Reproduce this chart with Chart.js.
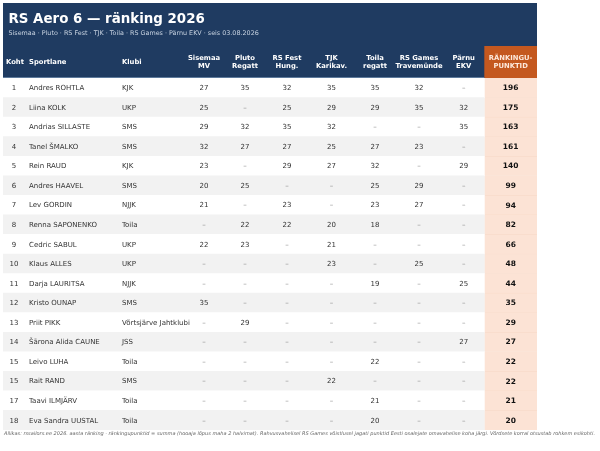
<!DOCTYPE html>
<html>
<head>
<meta charset="utf-8">
<script src="https://cdn.jsdelivr.net/npm/chart.js@4.4.1/dist/chart.umd.min.js"></script>
<style>
  html,body{margin:0;padding:0;background:#fff;}
  canvas{display:block;}
</style>
</head>
<body>
<canvas id="tbl" width="600" height="451"></canvas>
<script>
// RS Aero 6 ranking table, drawn on a Chart.js canvas

const TITLE = 'RS Aero 6 — ränking 2026';
const SUBTITLE = 'Sisemaa · Pluto · RS Fest · TJK · Toila · RS Games · Pärnu EKV · seis 03.08.2026';
const FOOTNOTE = 'Allikas: rssailors.ee 2026. aasta ränking · ränkingupunktid = summa (hooaja lõpus maha 2 halvimat). Rahvusvahelisel RS Games võistlusel jagati punktid Eesti osalejate omavahelise koha järgi. Võrdsete korral otsustab rohkem esikohti.';

const RANKS = [1,2,3,4,5,6,7,8,9,10,11,12,13,14,15,15,17,18];
const ATHLETES = ['Andres ROHTLA','Liina KOLK','Andrias SILLASTE','Tanel ŠMALKO','Rein RAUD','Andres HAAVEL','Lev GORDIN','Renna SAPONENKO','Cedric SABUL','Klaus ALLES','Darja LAURITSA','Kristo OUNAP','Priit PIKK','Šārona Alida CAUNE','Leivo LUHA','Rait RAND','Taavi ILMJÄRV','Eva Sandra UUSTAL'];
const CLUBS = ['KJK','UKP','SMS','SMS','KJK','SMS','NJJK','Toila','UKP','UKP','NJJK','SMS','Võrtsjärve Jahtklubi','JSS','Toila','SMS','Toila','Toila'];

const EVENTS = [['Sisemaa','MV'],['Pluto','Regatt'],['RS Fest','Hung.'],['TJK','Karikav.'],['Toila','regatt'],['RS Games','Travemünde'],['Pärnu','EKV']];
const SISEMAA  = [27,25,29,32,23,20,21,null,22,null,null,35,null,null,null,null,null,null];
const PLUTO    = [35,null,32,27,null,25,null,22,23,null,null,null,29,null,null,null,null,null];
const RSFEST   = [32,25,35,27,29,null,23,22,null,null,null,null,null,null,null,null,null,null];
const TJK      = [35,29,32,25,27,null,null,20,21,23,null,null,null,null,null,22,null,null];
const TOILA    = [35,29,null,27,32,25,23,18,null,null,19,null,null,null,22,null,21,20];
const RSGAMES  = [32,35,null,23,null,29,27,null,null,25,null,null,null,null,null,null,null,null];
const PARNU    = [null,32,35,null,29,null,null,null,null,null,25,null,null,27,null,null,null,null];
const POINTS   = [196,175,163,161,140,99,94,82,66,48,44,35,29,27,22,22,21,20];

const SCORES = [SISEMAA, PLUTO, RSFEST, TJK, TOILA, RSGAMES, PARNU];

// column layout in x-scale units (0..534)
const COLS = [
  {head:['Koht'], left:0, w:22, align:'center'},
  {head:['Sportlane'], left:22, w:93, align:'left'},
  {head:['Klubi'], left:115, w:66, align:'left'},
  {left:181, w:40}, {left:221, w:42}, {left:263, w:42}, {left:305, w:47},
  {left:352, w:40}, {left:392, w:48}, {left:440, w:41.3},
  {head:['RÄNKINGU-','PUNKTID'], left:481.3, w:52.7, align:'center'}
];
EVENTS.forEach((h,i)=>{ COLS[3+i].head = h; COLS[3+i].align = 'center'; });
const PTS_COL = COLS[COLS.length-1];

const NAVY = '#1f3b61';
const ORANGE = '#c4581f';
const PEACH = '#fce3d5';
const FONT = "'DejaVu Sans', sans-serif";

function colX(sx, c){
  if(c.align==='left') return sx.getPixelForValue(c.left) + 4;
  return sx.getPixelForValue(c.left + c.w/2);
}

const tablePlugin = {
  id:'table-text',
  beforeDatasetsDraw(chart){
    const {ctx, chartArea:a, scales:{x}} = chart;
    ctx.save();
    // header block
    ctx.fillStyle = NAVY;
    ctx.fillRect(a.left, 3, a.right-a.left, a.top-3);
    ctx.fillStyle = ORANGE;
    const pl = x.getPixelForValue(PTS_COL.left), pr = x.getPixelForValue(PTS_COL.left+PTS_COL.w);
    ctx.fillRect(pl, 46, pr-pl, a.top-46);
    ctx.fillStyle = '#5d7a9c';
    ctx.fillRect(a.left, a.top-1, pl-a.left, 1);

    ctx.fillStyle = '#fff';
    ctx.textBaseline = 'alphabetic';
    ctx.textAlign = 'left';
    ctx.font = `bold 13.4px ${FONT}`;
    ctx.fillText(TITLE, 8.5, 22.5);
    ctx.fillStyle = '#c9d4e2';
    ctx.font = `6.4px ${FONT}`;
    ctx.fillText(SUBTITLE, 8.5, 35);

    ctx.font = `bold 6.8px ${FONT}`;
    ctx.textBaseline = 'middle';
    COLS.forEach(c => {
      ctx.textAlign = c.align;
      ctx.fillStyle = c===PTS_COL ? '#fde9dc' : '#fff';
      const cx = colX(x, c);
      if(c.head.length===1) ctx.fillText(c.head[0], c===COLS[0] ? cx+1 : cx, 62);
      else { ctx.fillText(c.head[0], cx, 58.5); ctx.fillText(c.head[1], cx, 66.5); }
    });
    ctx.restore();
  },
  afterDatasetsDraw(chart){
    const {ctx, scales:{x, y}} = chart;
    ctx.save();
    ctx.textBaseline = 'middle';
    ATHLETES.forEach((name, i) => {
      const py = y.getPixelForValue(i) + 0.5;
      ctx.font = `7px ${FONT}`;
      ctx.fillStyle = '#333';
      ctx.textAlign = 'center';
      ctx.fillText(String(RANKS[i]), colX(x, COLS[0]), py);
      ctx.textAlign = 'left';
      ctx.fillText(name, colX(x, COLS[1]), py);
      ctx.fillText(CLUBS[i], colX(x, COLS[2]), py);
      ctx.textAlign = 'center';
      SCORES.forEach((s, j) => {
        const v = s[i];
        ctx.fillStyle = v==null ? '#888' : '#333';
        ctx.fillText(v==null ? '–' : String(v), colX(x, COLS[3+j]), py);
      });
      ctx.font = `bold 7.5px ${FONT}`;
      ctx.fillStyle = '#111';
      ctx.fillText(String(POINTS[i]), colX(x, PTS_COL), py);
    });
    // footnote sized to span the page width
    let fs = 6;
    ctx.font = `italic ${fs}px ${FONT}`;
    const w = ctx.measureText(FOOTNOTE).width;
    if(w > 592) fs = fs * 592 / w;
    ctx.font = `italic ${fs}px ${FONT}`;
    ctx.fillStyle = '#666';
    ctx.textAlign = 'left';
    ctx.fillText(FOOTNOTE, 4, 433.5);
    ctx.restore();
  }
};

new Chart(document.getElementById('tbl'), {
  type:'bar',
  data:{
    labels: ATHLETES,
    datasets:[
      { label:'rows', data: ATHLETES.map(()=>[0, PTS_COL.left]),
        backgroundColor: ctx => ctx.dataIndex % 2 ? '#f2f2f2' : '#ffffff',
        barPercentage:1, categoryPercentage:1, grouped:false, borderWidth:0 },
      { label:'points', data: ATHLETES.map(()=>[PTS_COL.left, PTS_COL.left+PTS_COL.w]),
        backgroundColor: PEACH,
        borderColor:'#f6d6c4', borderWidth:{top:0.5,bottom:0,left:0,right:0},
        barPercentage:1, categoryPercentage:1, grouped:false }
    ]
  },
  options:{
    indexAxis:'y',
    responsive:false,
    animation:false,
    layout:{padding:{left:3, right:63, top:78, bottom:21}},
    scales:{
      x:{type:'linear', min:0, max:534, display:false},
      y:{type:'category', offset:true, display:false}
    },
    plugins:{legend:{display:false}, tooltip:{enabled:false}}
  },
  plugins:[tablePlugin]
});
</script>
</body>
</html>
